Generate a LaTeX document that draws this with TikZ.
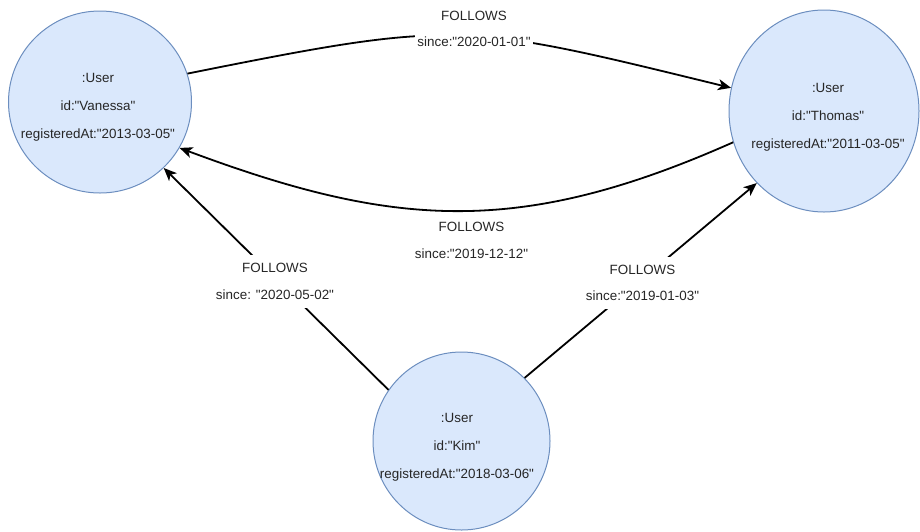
\documentclass[tikz,border=0pt]{standalone}
\usepackage{fontspec}
\setmainfont{Liberation Sans}[Ligatures=TeXOff]
\usetikzlibrary{shapes.geometric,arrows.meta}

\definecolor{userfill}{HTML}{DAE8FC}
\definecolor{userline}{HTML}{6C8EBF}

\tikzset{
  user/.style={ellipse, draw=userline, fill=userfill, line width=1pt,
    inner sep=0pt},
  usertext/.style={align=center, inner sep=0pt, text=black!85,
    font=\fontsize{13.4}{28}\selectfont},
  rel/.style={draw=black, line width=1.8pt,
    -{Stealth[length=13pt,width=11pt,inset=3.5pt]}},
  rellabel/.style={align=center, fill=white, inner xsep=2pt, inner ysep=8.4pt,
    text=black!85, font=\fontsize{13.4}{26.5}\selectfont},
}

\begin{document}
\begin{tikzpicture}[x=1pt,y=-1pt]
  \useasboundingbox (0,0) rectangle (920,531);

  % user nodes
  \node[user, minimum width=183pt, minimum height=182pt] (vanessa) at (100,102) {};
  \node[user, minimum width=190pt, minimum height=202pt] (thomas) at (824,111) {};
  \node[user, minimum width=177pt, minimum height=178pt] (kim) at (461.5,441) {};

  \node[usertext] (vanessatext) at (98,107)
    {:User\\id:"Vanessa"\\registeredAt:"2013-03-05"};
  \node[usertext] (thomastext) at (828,117)
    {:User\\id:"Thomas"\\registeredAt:"2011-03-05"};
  \node[usertext] (kimtext) at (457,447)
    {:User\\id:"Kim"\\registeredAt:"2018-03-06"};

  % FOLLOWS relationships
  \draw[rel] (vanessa.18) .. controls +(270,-54) and +(-270,-66) .. (thomas.166);
  \draw[rel] (thomas.199) .. controls +(-214,95) and +(214,80) .. (vanessa.330);
  \draw[rel] (kim.145) -- (vanessa.314);
  \draw[rel] (kim.45) -- (thomas.227);

  % relationship properties
  \node[rellabel] (toplabel) at (474,29) {FOLLOWS\\since:"2020-01-01"};
  \node[rellabel] (bottomlabel) at (471.5,240.5) {FOLLOWS\\since:"2019-12-12"};
  \node[rellabel] (leftlabel) at (275,281.5) {FOLLOWS\\since: "2020-05-02"};
  \node[rellabel] (rightlabel) at (642.5,283) {FOLLOWS\\since:"2019-01-03"};
\end{tikzpicture}
\end{document}
